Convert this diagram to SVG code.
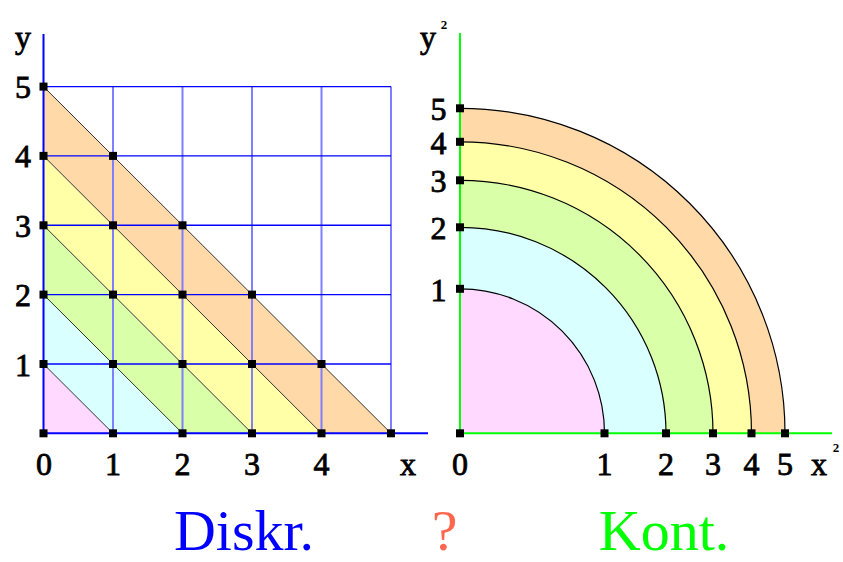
<svg xmlns="http://www.w3.org/2000/svg" width="843" height="562" viewBox="0 0 843 562">
<style>
.lbl{font-family:"Liberation Serif","Times New Roman",serif;font-size:32px;fill:#000;stroke:#000;stroke-width:0.8;text-anchor:middle}
.sup{font-family:"Liberation Serif","Times New Roman",serif;font-size:13px;font-weight:bold;fill:#000;text-anchor:middle}
.cap{font-family:"Liberation Serif","Times New Roman",serif;font-size:58px;text-anchor:middle}
.diag{stroke:#333;stroke-width:1;fill:none}
.arc{stroke:#000;stroke-width:1.2;fill:none}
.hg{stroke:#0000ff;stroke-width:1.4}
.vg{stroke:#7f7fff;stroke-width:2}
.pink{fill:#ffd9ff}.cyan{fill:#d9ffff}.green{fill:#d9ffa8}.yellow{fill:#ffffa8}.orange{fill:#ffd9a8}
</style>
<defs>
<rect id="dot" x="-4" y="-4" width="8" height="8" fill="#000"/>
</defs>
<rect width="843" height="562" fill="#fff"/>

<g id="discrete">
  <g id="bands">
    <polygon class="pink" points="43.5,433.3 113,433.3 43.5,364"/>
    <polygon class="cyan" points="113,433.3 182.5,433.3 43.5,294.6 43.5,364"/>
    <polygon class="green" points="182.5,433.3 252,433.3 43.5,225.3 43.5,294.6"/>
    <polygon class="yellow" points="252,433.3 321.5,433.3 43.5,155.9 43.5,225.3"/>
    <polygon class="orange" points="321.5,433.3 391,433.3 43.5,86.6 43.5,155.9"/>
  </g>
  <g id="grid">
    <line class="vg" x1="113" y1="86.6" x2="113" y2="433.3"/>
    <line class="vg" x1="182.5" y1="86.6" x2="182.5" y2="433.3"/>
    <line class="vg" x1="252" y1="86.6" x2="252" y2="433.3"/>
    <line class="vg" x1="321.5" y1="86.6" x2="321.5" y2="433.3"/>
    <line class="vg" x1="391" y1="86.6" x2="391" y2="433.3"/>
    <line class="hg" x1="43.5" y1="364" x2="391" y2="364"/>
    <line class="hg" x1="43.5" y1="294.6" x2="391" y2="294.6"/>
    <line class="hg" x1="43.5" y1="225.3" x2="391" y2="225.3"/>
    <line class="hg" x1="43.5" y1="155.9" x2="391" y2="155.9"/>
    <line class="hg" x1="43.5" y1="86.6" x2="391" y2="86.6"/>
  </g>
  <g id="diagonals">
    <line class="diag" x1="43.5" y1="364" x2="113" y2="433.3"/>
    <line class="diag" x1="43.5" y1="294.6" x2="182.5" y2="433.3"/>
    <line class="diag" x1="43.5" y1="225.3" x2="252" y2="433.3"/>
    <line class="diag" x1="43.5" y1="155.9" x2="321.5" y2="433.3"/>
    <line class="diag" x1="43.5" y1="86.6" x2="391" y2="433.3"/>
  </g>
  <g id="axes-left">
    <line x1="43.5" y1="34" x2="43.5" y2="434" stroke="#0000ff" stroke-width="2"/>
    <line x1="43" y1="433.3" x2="428" y2="433.3" stroke="#0000ff" stroke-width="2"/>
  </g>
  <g id="dots-left">
    <use href="#dot" x="43.5" y="433.3"/><use href="#dot" x="113" y="433.3"/><use href="#dot" x="182.5" y="433.3"/><use href="#dot" x="252" y="433.3"/><use href="#dot" x="321.5" y="433.3"/><use href="#dot" x="391" y="433.3"/>
    <use href="#dot" x="43.5" y="364"/><use href="#dot" x="113" y="364"/><use href="#dot" x="182.5" y="364"/><use href="#dot" x="252" y="364"/><use href="#dot" x="321.5" y="364"/>
    <use href="#dot" x="43.5" y="294.6"/><use href="#dot" x="113" y="294.6"/><use href="#dot" x="182.5" y="294.6"/><use href="#dot" x="252" y="294.6"/>
    <use href="#dot" x="43.5" y="225.3"/><use href="#dot" x="113" y="225.3"/><use href="#dot" x="182.5" y="225.3"/>
    <use href="#dot" x="43.5" y="155.9"/><use href="#dot" x="113" y="155.9"/>
    <use href="#dot" x="43.5" y="86.6"/>
  </g>
  <g id="labels-left">
    <text class="lbl" x="23" y="48">y</text>
    <text class="lbl" x="23" y="98">5</text>
    <text class="lbl" x="23" y="167">4</text>
    <text class="lbl" x="23" y="236.5">3</text>
    <text class="lbl" x="23" y="306">2</text>
    <text class="lbl" x="23" y="375.5">1</text>
    <text class="lbl" x="44" y="475">0</text>
    <text class="lbl" x="113" y="475">1</text>
    <text class="lbl" x="182.5" y="475">2</text>
    <text class="lbl" x="252" y="475">3</text>
    <text class="lbl" x="321.5" y="475">4</text>
    <text class="lbl" x="408" y="475">x</text>
  </g>
</g>

<g id="continuous">
  <g id="rings">
    <path class="orange" d="M460,433.3 L785,433.3 A325,325 0 0 0 460,108.3 Z"/>
    <path class="yellow" d="M460,433.3 L751.5,433.3 A291.5,291.5 0 0 0 460,141.8 Z"/>
    <path class="green" d="M460,433.3 L713,433.3 A253,253 0 0 0 460,180.3 Z"/>
    <path class="cyan" d="M460,433.3 L666,433.3 A206,206 0 0 0 460,227.3 Z"/>
    <path class="pink" d="M460,433.3 L604.5,433.3 A144.5,144.5 0 0 0 460,288.8 Z"/>
    <path class="arc" d="M785,433.3 A325,325 0 0 0 460,108.3"/>
    <path class="arc" d="M751.5,433.3 A291.5,291.5 0 0 0 460,141.8"/>
    <path class="arc" d="M713,433.3 A253,253 0 0 0 460,180.3"/>
    <path class="arc" d="M666,433.3 A206,206 0 0 0 460,227.3"/>
    <path class="arc" d="M604.5,433.3 A144.5,144.5 0 0 0 460,288.8"/>
  </g>
  <g id="axes-right">
    <line x1="460" y1="33" x2="460" y2="434" stroke="#00ff00" stroke-width="2"/>
    <line x1="459" y1="433.3" x2="832" y2="433.3" stroke="#00ff00" stroke-width="2"/>
  </g>
  <g id="dots-right">
    <use href="#dot" x="460" y="433.3"/><use href="#dot" x="604.5" y="433.3"/><use href="#dot" x="666" y="433.3"/><use href="#dot" x="713" y="433.3"/><use href="#dot" x="751.5" y="433.3"/><use href="#dot" x="785" y="433.3"/>
    <use href="#dot" x="460" y="288.8"/><use href="#dot" x="460" y="227.3"/><use href="#dot" x="460" y="180.3"/><use href="#dot" x="460" y="141.8"/><use href="#dot" x="460" y="108.3"/>
  </g>
  <g id="labels-right">
    <text class="lbl" x="428" y="48">y</text>
    <text class="sup" x="444" y="29">2</text>
    <text class="lbl" x="438.5" y="120">5</text>
    <text class="lbl" x="438.5" y="153.5">4</text>
    <text class="lbl" x="438.5" y="192">3</text>
    <text class="lbl" x="438.5" y="239">2</text>
    <text class="lbl" x="438.5" y="300.5">1</text>
    <text class="lbl" x="460" y="475">0</text>
    <text class="lbl" x="604.5" y="475">1</text>
    <text class="lbl" x="666" y="475">2</text>
    <text class="lbl" x="713" y="475">3</text>
    <text class="lbl" x="751.5" y="475">4</text>
    <text class="lbl" x="785" y="475">5</text>
    <text class="lbl" x="819" y="475">x</text>
    <text class="sup" x="836" y="452">2</text>
  </g>
</g>

<g id="captions">
  <text class="cap" x="244" y="550" fill="#0000ff">Diskr.</text>
  <text class="cap" x="444.5" y="550" fill="#ff6650">?</text>
  <text class="cap" x="664" y="550" fill="#00ff00">Kont.</text>
</g>
</svg>
